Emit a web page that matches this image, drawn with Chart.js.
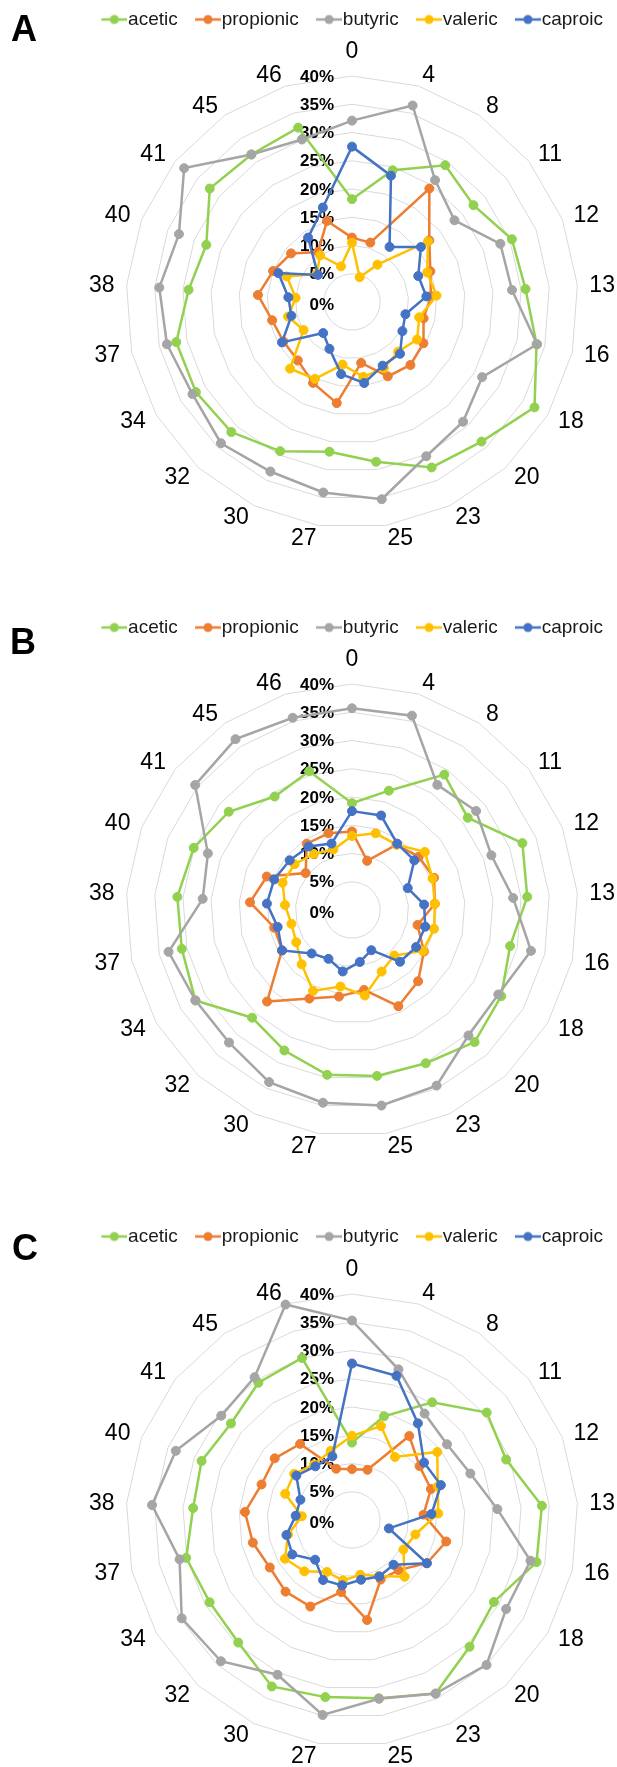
<!DOCTYPE html>
<html>
<head>
<meta charset="utf-8">
<script src="https://cdn.jsdelivr.net/npm/chart.js@4.4.1/dist/chart.umd.min.js"></script>
<style>
  html, body { margin: 0; padding: 0; background: #fff; width: 617px; height: 1767px; overflow: hidden; }
  canvas { position: absolute; left: 0; }
</style>
</head>
<body>
<canvas id="panelA" width="617" height="590" style="top:0px"></canvas>
<canvas id="panelB" width="617" height="590" style="top:608px"></canvas>
<canvas id="panelC" width="617" height="550" style="top:1217px"></canvas>
<script>
// Days of the run (spokes of each radar)
const days = ['0', '4', '8', '11', '12', '13', '16', '18', '20', '23', '25', '27', '30', '32', '34', '37', '38', '40', '41', '45', '46'];
// Ring values, percent of total VFA
const ringTicks = [0, 5, 10, 15, 20, 25, 30, 35, 40];
const acidNames = ['acetic', 'propionic', 'butyric', 'valeric', 'caproic'];

// Panel A
const aceticA    = [18.2, 24.4, 29.3, 27.5, 30.4, 30.8, 33.5, 37.3, 33.7, 32.5, 28.6, 26.8, 29.3, 31.4, 31.9, 31.9, 29.0, 27.7, 32.2, 31.6, 32.3];
const propionicA = [11.4, 11.0, 24.3, 17.5, 14.9, 14.0, 13.0, 14.6, 15.2, 14.6, 10.9, 18.1, 15.9, 14.1, 14.0, 14.5, 16.7, 15.0, 13.8, 10.7, 15.0];
const butyricA   = [32.1, 36.4, 26.1, 23.2, 28.2, 28.4, 33.6, 26.6, 28.9, 30.3, 35.3, 34.1, 33.3, 34.1, 32.6, 33.6, 34.2, 32.9, 38.0, 31.6, 30.1];
const valericA   = [10.5, 4.6, 8.0, 17.2, 14.3, 15.0, 12.2, 13.3, 12.0, 13.0, 13.4, 11.2, 15.1, 16.1, 9.9, 11.6, 10.0, 12.4, 8.0, 10.0, 6.6];
const caproicA   = [27.5, 23.4, 11.8, 15.6, 12.6, 13.2, 9.7, 10.3, 12.5, 12.5, 14.5, 12.9, 9.2, 7.5, 14.3, 11.0, 11.3, 14.0, 7.7, 13.8, 17.5];

// Panel B
const aceticB    = [18.9, 22.1, 29.0, 26.2, 32.4, 31.1, 28.7, 30.5, 31.9, 30.1, 29.7, 29.5, 27.6, 26.0, 32.0, 30.9, 31.0, 30.1, 27.9, 24.3, 25.7];
const propionicB = [13.9, 9.1, 14.0, 15.1, 15.6, 14.7, 11.9, 14.7, 17.2, 18.9, 14.3, 15.5, 17.4, 22.1, 14.3, 14.1, 18.1, 16.2, 10.5, 14.2, 14.2];
const butyricB   = [35.7, 36.0, 26.8, 28.1, 26.5, 28.6, 32.5, 29.9, 30.3, 34.5, 35.0, 34.5, 33.8, 32.0, 32.0, 33.3, 26.5, 27.4, 35.5, 36.6, 35.6];
const valericB   = [13.1, 14.2, 14.0, 16.5, 15.3, 14.7, 14.9, 14.5, 11.0, 12.1, 15.3, 13.7, 15.9, 13.1, 11.4, 11.0, 11.9, 13.2, 13.0, 12.0, 11.2];
const caproicB   = [17.5, 17.5, 14.2, 14.1, 10.6, 12.8, 13.3, 13.1, 12.5, 7.9, 9.3, 11.0, 9.6, 10.5, 14.3, 13.5, 15.1, 14.8, 14.1, 13.6, 12.3];

// Panel C
const aceticC    = [13.7, 19.2, 25.2, 30.5, 29.3, 33.7, 33.5, 29.0, 30.6, 34.1, 31.9, 31.7, 32.7, 29.6, 29.1, 30.1, 28.2, 28.6, 27.4, 29.4, 30.0];
const propionicC = [9.0, 9.3, 18.0, 15.3, 15.0, 12.7, 17.1, 15.3, 12.1, 11.7, 17.9, 12.9, 17.0, 17.3, 16.8, 18.0, 19.0, 17.2, 17.5, 16.3, 9.5];
const butyricC   = [35.3, 27.9, 22.8, 21.5, 22.5, 25.8, 32.4, 31.5, 35.0, 34.1, 32.0, 34.9, 30.4, 34.1, 34.8, 31.3, 35.5, 33.5, 29.6, 30.6, 39.9];
const valericC   = [14.9, 17.4, 13.5, 19.3, 16.3, 15.3, 11.5, 10.5, 13.7, 11.0, 9.8, 10.8, 10.2, 12.4, 13.7, 11.6, 8.9, 12.7, 13.1, 11.9, 12.8];
const caproicC   = [27.7, 26.7, 20.7, 16.3, 16.9, 14.1, 6.7, 15.3, 10.8, 11.1, 10.7, 11.7, 11.8, 9.6, 12.2, 11.9, 10.0, 9.8, 12.6, 11.5, 11.8];

const acidColors = ['#92D050', '#ED7D31', '#A5A5A5', '#FFC000', '#4472C4'];
const FONT = '"Liberation Sans", Arial, Helvetica, sans-serif';

Chart.defaults.font.family = FONT;

// Legend swatch: short line with a dot, like the series markers
function legendMark(color) {
  const c = document.createElement('canvas');
  c.width = 42; c.height = 12;
  const g = c.getContext('2d');
  g.strokeStyle = color; g.lineWidth = 2.5;
  g.beginPath(); g.moveTo(16, 6); g.lineTo(42, 6); g.stroke();
  g.fillStyle = color;
  g.beginPath(); g.arc(29, 6, 4.5, 0, Math.PI * 2); g.fill();
  return c;
}
const legendMarks = acidColors.map(legendMark);

// Ring labels, day labels and the panel letter
const panelText = {
  id: 'panelText',
  beforeDatasetsDraw(chart, args, opts) {
    const r = chart.scales.r;
    const ctx = chart.ctx;
    ctx.save();
    ctx.fillStyle = '#000';
    ctx.font = 'bold 17px ' + FONT;
    ctx.textAlign = 'right';
    ctx.textBaseline = 'middle';
    r.ticks.forEach(t => {
      const d = r.getDistanceFromCenterForValue(t.value);
      ctx.fillText(t.value + '%', r.xCenter - 18, r.yCenter - d + (t.value === 0 ? 3 : 1));
    });
    ctx.font = '23px ' + FONT;
    chart.data.labels.forEach((lab, i) => {
      const p = r.getPointPosition(i, r.drawingArea + 12);
      if (i === 0) {
        ctx.textAlign = 'center';
        ctx.fillText(lab, p.x, p.y - 12);
      } else {
        ctx.textAlign = p.x > r.xCenter ? 'left' : 'right';
        ctx.fillText(lab, p.x, p.y + 1);
      }
    });
    ctx.restore();
  },
  afterDraw(chart, args, opts) {
    const ctx = chart.ctx;
    ctx.save();
    ctx.fillStyle = '#000';
    ctx.font = 'bold 36px ' + FONT;
    ctx.textAlign = 'left';
    ctx.textBaseline = 'middle';
    ctx.fillText(opts.letter, opts.x, opts.y);
    ctx.restore();
  }
};

function buildPanel(id, letter, letterX, letterY, cy, series) {
  const cx = 352, radius = 226;
  return new Chart(document.getElementById(id), {
    type: 'radar',
    data: {
      labels: days,
      datasets: series.map((values, k) => ({
        label: acidNames[k],
        data: values,
        borderColor: acidColors[k],
        backgroundColor: acidColors[k],
        pointBackgroundColor: acidColors[k],
        pointBorderColor: acidColors[k],
        borderWidth: 2.5,
        pointRadius: 4.5,
        pointBorderWidth: 1,
        fill: false,
        tension: 0,
        clip: false,
        order: 5 - k
      }))
    },
    options: {
      responsive: false,
      animation: false,
      devicePixelRatio: 1,
      events: [],
      layout: { padding: { left: 80, top: 0, right: 0, bottom: 0 } },
      plugins: {
        tooltip: { enabled: false },
        panelText: { letter: letter, x: letterX, y: letterY },
        legend: {
          position: 'top',
          labels: {
            usePointStyle: true,
            pointStyleWidth: 24.5,
            padding: 10,
            color: '#1a1a1a',
            font: { size: 19, family: FONT },
            sort: (a, b) => a.datasetIndex - b.datasetIndex,
            generateLabels(chart) {
              const items = Chart.defaults.plugins.legend.labels.generateLabels(chart);
              items.forEach(it => { it.pointStyle = legendMarks[it.datasetIndex]; });
              return items;
            }
          }
        }
      },
      scales: {
        r: {
          min: 0,
          max: 40,
          ticks: { stepSize: 5, display: false, callback: v => v + '%' },
          grid: { color: '#d9d9d9', lineWidth: 1, circular: false },
          angleLines: { display: false },
          pointLabels: { display: false },
          afterFit(scale) {
            scale.xCenter = cx;
            scale.yCenter = cy;
            scale.drawingArea = radius;
          }
        }
      }
    },
    plugins: [panelText]
  });
}

buildPanel('panelA', 'A', 11, 31.5, 302, [aceticA, propionicA, butyricA, valericA, caproicA]);
buildPanel('panelB', 'B', 10, 36.5, 302, [aceticB, propionicB, butyricB, valericB, caproicB]);
buildPanel('panelC', 'C', 12, 33.5, 303, [aceticC, propionicC, butyricC, valericC, caproicC]);
</script>
</body>
</html>
